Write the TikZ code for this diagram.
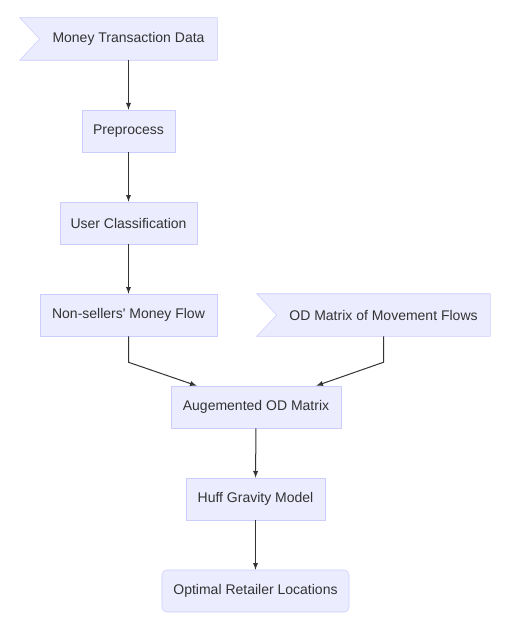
\documentclass[tikz,border=0pt]{standalone}
\usepackage{fontspec}
\setmainfont{Liberation Sans}
\usepackage{xcolor}
\usepackage{tikz}
\usetikzlibrary{shapes,arrows}
\usetikzlibrary{positioning,calc,backgrounds}
\definecolor{riemp}{HTML}{ECECFF}
\definecolor{bordo}{HTML}{CCCCFF}
\definecolor{testo}{HTML}{333333}
% flag outline around a node, notch at the node's west anchor
\newcommand{\bandiera}[2]{%
\begin{scope}[on background layer]
\draw[#2] ($(#1.north west)+(-20,0)$) -- (#1.north east) -- (#1.south east)
  -- ($(#1.south west)+(-20,0)$) -- (#1.west) -- cycle;
\end{scope}
}
\tikzset{%
  passo/.style={draw=bordo, fill=riemp, text=testo,
    minimum height=31.5pt, inner xsep=3pt, font=\fontsize{10.5}{12}\selectfont},
  arrotondato/.style={passo, rounded corners=3.5pt},
  bandierina/.style={passo, draw=none, fill=none},
  contorno/.style={draw=bordo, fill=riemp},
  freccia/.style={->, >=latex, draw=testo, line width=0.75pt}
}
\begin{document}
\begin{tikzpicture}[x=0.75pt,y=-0.75pt]
\begin{scope}[on background layer]
\fill[white] (0,0) rectangle (513,631);
\end{scope}
\useasboundingbox (0,0) rectangle (513,631);

\node[bandierina, minimum width=132.75pt] (dati) at (128.5,39) {Money Transaction Data};
\node[passo, minimum width=69.75pt] (prepro) at (128.5,131) {Preprocess};
\node[passo, minimum width=102.75pt] (classif) at (128.5,223) {User Classification};
\node[passo, minimum width=132.75pt] (flusso) at (128.5,315) {Non-sellers\textquotesingle\ Money Flow};
\node[bandierina, minimum width=159.75pt] (matriceod) at (383.5,315) {OD Matrix of Movement Flows};
\node[passo, minimum width=127.5pt] (aumentata) at (256,407) {Augemented OD Matrix};
\node[passo, minimum width=104.25pt] (huff) at (255.5,499) {Huff Gravity Model};
\node[arrotondato, minimum width=140.25pt] (ottimale) at (255.5,591) {Optimal Retailer Locations};

\bandiera{dati}{contorno}
\bandiera{matriceod}{contorno}

\coordinate (ingr1) at ($(aumentata.north west)+(26,0)$);
\coordinate (ingr2) at ($(aumentata.north east)+(-25,0)$);

\draw[freccia] (dati) -- (prepro);
\draw[freccia] (prepro) -- (classif);
\draw[freccia] (classif) -- (flusso);
\draw[freccia] (flusso.south) -- ++(0,26) -- (ingr1);
\draw[freccia] (matriceod.south) -- ++(0,26) -- (ingr2);
\draw[freccia] (aumentata) -- (huff);
\draw[freccia] (huff) -- (ottimale);
\end{tikzpicture}
\end{document}
